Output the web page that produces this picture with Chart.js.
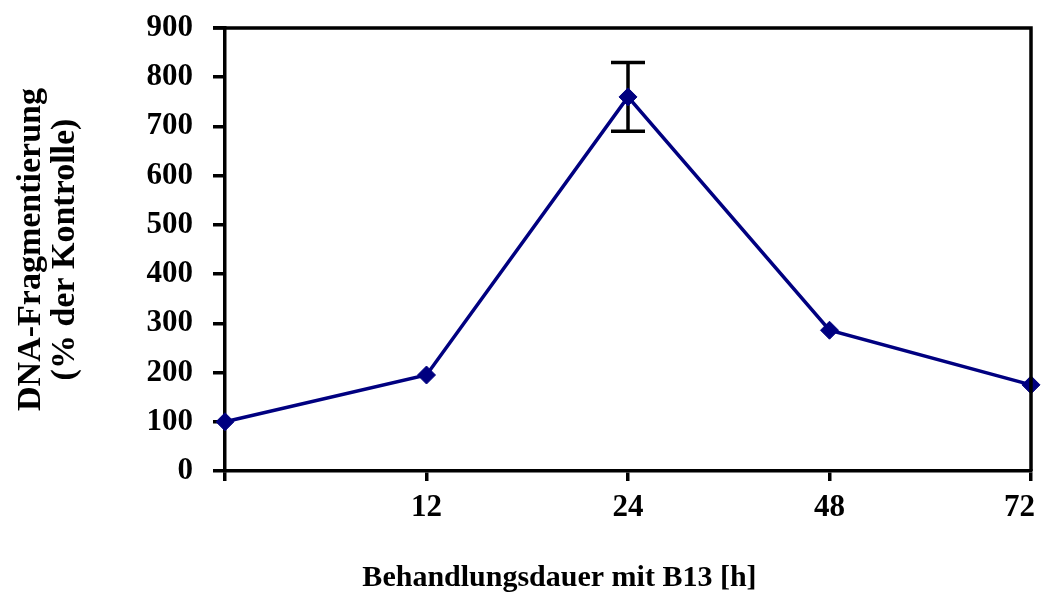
<!DOCTYPE html>
<html>
<head>
<meta charset="utf-8">
<script src="https://cdn.jsdelivr.net/npm/chart.js@4/dist/chart.umd.min.js"></script>
<style>
  html, body { margin: 0; padding: 0; background: #fff; }
  #wrap { width: 1042px; height: 597px; }
</style>
</head>
<body>
<div id="wrap"><canvas id="c" width="1042" height="597"></canvas></div>
<script>
// Treatment time with B13 (hours); the first point is the untreated control
const categories = ['', '12', '24', '48', '72'];
// DNA fragmentation relative to control (%)
const fragmentation = [100, 195, 760, 286, 175];
// Standard deviation per time point (only measured at 24 h)
const errorBars = [null, null, 70, null, null];
// Y axis range and step
const yTicks = { min: 0, max: 900, step: 100 };

const yTitleLines = ['DNA-Fragmentierung', '(% der Kontrolle)'];
const xTitleText = 'Behandlungsdauer mit B13 [h]';

const SERIF = '"Liberation Serif", "DejaVu Serif", serif';
const NAVY = '#000080';

// Draw error bars behind the data line
const errorBarPlugin = {
  id: 'errorBars',
  beforeDatasetsDraw(chart) {
    const { ctx, scales: { x, y } } = chart;
    ctx.save();
    ctx.strokeStyle = '#000';
    ctx.lineWidth = 3.5;
    errorBars.forEach((err, i) => {
      if (err == null) return;
      const px = x.getPixelForValue(i);
      const top = y.getPixelForValue(fragmentation[i] + err);
      const bot = y.getPixelForValue(fragmentation[i] - err);
      const cap = 17;
      ctx.beginPath();
      ctx.moveTo(px, top); ctx.lineTo(px, bot);
      ctx.moveTo(px - cap, top); ctx.lineTo(px + cap, top);
      ctx.moveTo(px - cap, bot); ctx.lineTo(px + cap, bot);
      ctx.stroke();
    });
    ctx.restore();
  }
};

// Closed frame around the plot area, plus the x axis caption
const framePlugin = {
  id: 'frame',
  afterDraw(chart) {
    const { ctx, chartArea: a } = chart;
    ctx.save();
    ctx.strokeStyle = '#000';
    ctx.lineWidth = 3.5;
    ctx.beginPath();
    ctx.moveTo(a.left - 12, a.top);
    ctx.lineTo(a.right, a.top);
    ctx.lineTo(a.right, a.bottom);
    ctx.stroke();

    ctx.fillStyle = '#000';
    ctx.font = 'bold 30px ' + SERIF;
    ctx.textAlign = 'center';
    ctx.textBaseline = 'middle';
    ctx.fillText(xTitleText, a.left + (a.right - a.left) * 0.415, 578);
    ctx.restore();
  }
};

new Chart(document.getElementById('c'), {
  type: 'line',
  data: {
    labels: categories,
    datasets: [{
      data: fragmentation,
      borderColor: NAVY,
      backgroundColor: NAVY,
      borderWidth: 3.5,
      pointStyle: 'rectRot',
      pointRadius: 9,
      pointBorderWidth: 1,
      tension: 0,
      clip: false
    }]
  },
  options: {
    responsive: false,
    animation: false,
    layout: { padding: { top: 28, right: 11, left: 0, bottom: 0 } },
    plugins: { legend: { display: false }, tooltip: { enabled: false } },
    scales: {
      x: {
        type: 'category',
        offset: false,
        grid: { drawOnChartArea: false, drawTicks: true, tickLength: 10, color: '#000', lineWidth: 3.5 },
        border: { display: true, color: '#000', width: 3.5 },
        ticks: {
          color: '#000', padding: 8, maxRotation: 0, autoSkip: false,
          font: { family: SERIF, size: 31, weight: 'bold' },
          // keep the last label inside the page edge
          callback(value, index, ticks) {
            const label = this.getLabelForValue(value);
            return index === ticks.length - 1 ? label + '\u2002\u2005' : label;
          }
        },
        afterFit(scale) {
          scale.height = 126;
          scale.paddingLeft = 0;
          scale.paddingRight = 0;
        }
      },
      y: {
        min: yTicks.min,
        max: yTicks.max,
        grid: { drawOnChartArea: false, drawTicks: true, tickLength: 12, color: '#000', lineWidth: 3.5 },
        border: { display: true, color: '#000', width: 3.5 },
        ticks: { stepSize: yTicks.step, color: '#000', padding: 20, autoSkip: false,
                 font: { family: SERIF, size: 31, weight: 'bold' } },
        title: {
          display: true,
          text: yTitleLines,
          color: '#000',
          padding: { top: 14, bottom: 0 },
          font: { family: SERIF, size: 34, weight: 'bold', lineHeight: 34 / 34 }
        },
        afterFit(scale) {
          scale.width = 225;
          scale.paddingTop = 0;
          scale.paddingBottom = 0;
        }
      }
    }
  },
  plugins: [errorBarPlugin, framePlugin]
});
</script>
</body>
</html>
